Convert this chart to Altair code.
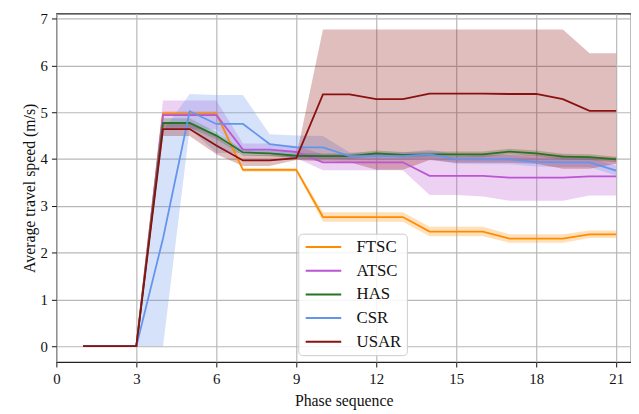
import altair as alt
import pandas as pd

phase = list(range(1, 22))
series_names = ["FTSC", "ATSC", "HAS", "CSR", "USAR"]
series_colors = ["#ff8c00", "#ba55d3", "#267326", "#6495ed", "#8b1010"]

ftsc_mean = [0, 0, 0, 4.97, 4.97, 4.97, 3.77, 3.77, 3.77, 2.76, 2.76, 2.76, 2.76, 2.45, 2.45, 2.45, 2.30, 2.30, 2.30, 2.39, 2.39]
ftsc_lo = [0, 0, 0, 4.92, 4.92, 4.92, 3.73, 3.73, 3.73, 2.66, 2.66, 2.66, 2.66, 2.35, 2.35, 2.35, 2.21, 2.21, 2.21, 2.31, 2.31]
ftsc_hi = [0, 0, 0, 5.02, 5.02, 5.02, 3.81, 3.81, 3.81, 2.86, 2.86, 2.86, 2.86, 2.55, 2.55, 2.55, 2.39, 2.39, 2.39, 2.47, 2.47]

atsc_mean = [0, 0, 0, 4.94, 4.94, 4.94, 4.20, 4.20, 4.15, 3.93, 3.93, 3.93, 3.93, 3.64, 3.64, 3.64, 3.60, 3.60, 3.60, 3.63, 3.63]
atsc_lo = [0, 0, 0, 4.63, 4.63, 4.63, 4.07, 4.07, 4.02, 3.76, 3.76, 3.76, 3.76, 3.23, 3.23, 3.20, 3.11, 3.11, 3.11, 3.22, 3.22]
atsc_hi = [0, 0, 0, 5.25, 5.25, 5.25, 4.33, 4.33, 4.28, 4.10, 4.10, 4.10, 4.10, 4.05, 4.05, 4.08, 4.09, 4.09, 4.09, 4.04, 4.04]

has_mean = [0, 0, 0, 4.77, 4.77, 4.50, 4.14, 4.12, 4.07, 4.06, 4.06, 4.12, 4.09, 4.10, 4.10, 4.10, 4.16, 4.12, 4.05, 4.04, 3.99]
has_lo = [0, 0, 0, 4.67, 4.67, 4.42, 4.08, 4.06, 4.01, 4.00, 4.00, 4.06, 4.03, 4.04, 4.04, 4.04, 4.10, 4.06, 3.99, 3.98, 3.93]
has_hi = [0, 0, 0, 4.87, 4.87, 4.58, 4.20, 4.18, 4.13, 4.12, 4.12, 4.18, 4.15, 4.16, 4.16, 4.16, 4.22, 4.18, 4.11, 4.10, 4.05]

csr_mean = [0, 0, 0, 2.30, 5.02, 4.75, 4.75, 4.32, 4.25, 4.25, 4.06, 4.06, 4.06, 4.10, 4.00, 3.99, 3.99, 3.94, 3.93, 3.93, 3.75]
csr_lo = [0, 0, 0, 0.00, 4.65, 4.13, 4.13, 4.11, 4.00, 4.01, 3.98, 3.98, 3.98, 4.00, 3.90, 3.89, 3.89, 3.84, 3.83, 3.83, 3.65]
csr_hi = [0, 0, 0, 4.60, 5.39, 5.37, 5.37, 4.53, 4.50, 4.49, 4.14, 4.14, 4.14, 4.20, 4.10, 4.09, 4.09, 4.04, 4.03, 4.03, 3.85]

usar_mean = [0, 0, 0, 4.64, 4.64, 4.29, 3.97, 3.97, 4.02, 5.38, 5.38, 5.28, 5.28, 5.40, 5.40, 5.40, 5.39, 5.39, 5.28, 5.03, 5.03]
usar_lo = [0, 0, 0, 4.49, 4.49, 4.10, 3.85, 3.85, 3.98, 3.95, 3.93, 3.77, 3.77, 3.98, 3.92, 3.92, 3.92, 3.90, 3.79, 3.79, 3.90]
usar_hi = [0, 0, 0, 4.79, 4.79, 4.48, 4.09, 4.09, 4.06, 6.77, 6.77, 6.77, 6.77, 6.77, 6.77, 6.77, 6.77, 6.77, 6.77, 6.26, 6.26]

x_ticks = [0, 3, 6, 9, 12, 15, 18, 21]
y_ticks = [0, 1, 2, 3, 4, 5, 6, 7]

all_series = {
    "FTSC": (ftsc_mean, ftsc_lo, ftsc_hi),
    "ATSC": (atsc_mean, atsc_lo, atsc_hi),
    "HAS": (has_mean, has_lo, has_hi),
    "CSR": (csr_mean, csr_lo, csr_hi),
    "USAR": (usar_mean, usar_lo, usar_hi),
}

rows = []
for k, name in enumerate(series_names):
    m, lo, hi = all_series[name]
    for i, p in enumerate(phase):
        rows.append({"phase": p, "series": name, "band": name, "order": k,
                     "mean": m[i], "lo": lo[i], "hi": hi[i]})
df = pd.DataFrame(rows)

FONT = "Liberation Serif, Times New Roman, DejaVu Serif, serif"

xs = alt.Scale(domain=[0, 21.556], nice=False, zero=False)
ys = alt.Scale(domain=[-0.34, 7.11], nice=False, zero=False)

x_axis = alt.Axis(values=x_ticks, title="Phase sequence", labelFont=FONT, labelFontSize=15,
                  titleFont=FONT, titleFontSize=16, titleFontWeight="normal", titleColor="#111",
                  labelColor="#111", tickColor="#111", tickSize=5, labelPadding=5, titlePadding=6,
                  grid=True, gridColor="#b8b8b8", gridWidth=1.2, domain=False, labelFlush=False)
y_axis = alt.Axis(values=y_ticks, title="Average travel speed (m/s)", labelFont=FONT, labelFontSize=15,
                  titleFont=FONT, titleFontSize=16, titleFontWeight="normal", titleColor="#111",
                  labelColor="#111", tickColor="#111", tickSize=5, labelPadding=4, titlePadding=3,
                  grid=True, gridColor="#b8b8b8", gridWidth=1.2, domain=False, labelFlush=False)

# band fill scale: data-driven domain (sorted like the legend) so it doesn't merge with the line legend
bands = alt.Chart(df).mark_area(opacity=0.27, interpolate="linear").encode(
    x=alt.X("phase:Q", scale=xs, axis=x_axis),
    y=alt.Y("lo:Q", scale=ys, axis=y_axis),
    y2="hi:Q",
    fill=alt.Fill("band:N", sort=series_names, scale=alt.Scale(range=series_colors), legend=None),
    detail="band:N",
    order="order:Q",
)

lines = alt.Chart(df).mark_line(strokeWidth=1.8).encode(
    x=alt.X("phase:Q", scale=xs),
    y=alt.Y("mean:Q", scale=ys),
    color=alt.Color("series:N", scale=alt.Scale(domain=series_names, range=series_colors),
                    legend=alt.Legend(title=None, orient="none", legendX=245, legendY=223,
                                      symbolType="M-3,0L3,0", symbolSize=144, symbolStrokeWidth=2,
                                      symbolOffset=12, labelOffset=25,
                                      labelFont=FONT, labelFontSize=17, labelColor="#111",
                                      rowPadding=6, padding=5,
                                      fillColor="rgba(255,255,255,0.85)", strokeColor="#cccccc",
                                      cornerRadius=4)),
    order="order:Q",
)

chart = alt.layer(bands, lines).properties(
    width=582, height=353,
    autosize=alt.AutoSizeParams(type="none"),
    padding={"left": 49, "top": 3, "right": 0, "bottom": 48},
    background="white",
).configure_view(stroke="#222", strokeWidth=1.2)

chart.save("out.html", embed_options={"renderer": "svg", "actions": False})
